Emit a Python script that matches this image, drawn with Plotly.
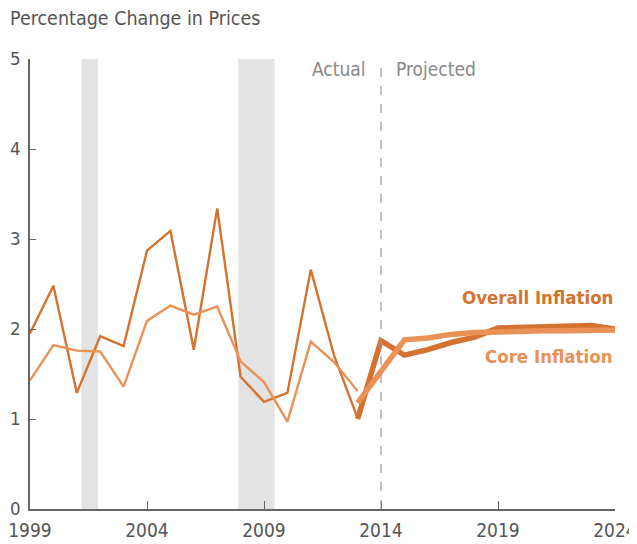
import plotly.graph_objects as go

years_actual = list(range(1999, 2014))
overall_actual = [1.95, 2.48, 1.29, 1.92, 1.81, 2.87, 3.09, 1.77, 3.34, 1.47, 1.19, 1.29, 2.66, 1.70, 1.01]
core_actual = [1.43, 1.82, 1.76, 1.75, 1.36, 2.09, 2.26, 2.16, 2.25, 1.64, 1.41, 0.97, 1.86, 1.63, 1.31]

years_proj = list(range(2013, 2025))
overall_proj = [1.00, 1.87, 1.71, 1.77, 1.85, 1.91, 2.01, 2.02, 2.02, 2.03, 2.04, 2.00]
core_proj = [1.18, 1.53, 1.88, 1.90, 1.94, 1.96, 1.97, 1.97, 1.98, 1.98, 1.99, 1.99]

recessions = [(2001.2, 2001.9), (2007.9, 2009.45)]
x_ticks = [1999, 2004, 2009, 2014, 2019, 2024]
y_ticks = [0, 1, 2, 3, 4, 5]

C_OVERALL = "#D4722F"
C_CORE = "#E99157"
GRAY = "#666666"
FONT = "DejaVu Sans Condensed, sans-serif"

fig = go.Figure()

for x0, x1 in recessions:
    fig.add_shape(type="rect", x0=x0, x1=x1, y0=0, y1=5, xref="x", yref="y",
                  fillcolor="#E3E3E3", line_width=0, layer="below")

fig.add_shape(type="line", x0=2014, x1=2014, y0=0, y1=5, xref="x", yref="y",
              line=dict(color="#999999", width=1.2, dash="dash"))

fig.add_trace(go.Scatter(x=years_actual, y=overall_actual, mode="lines",
                         line=dict(color=C_OVERALL, width=2.4), showlegend=False))
fig.add_trace(go.Scatter(x=years_actual, y=core_actual, mode="lines",
                         line=dict(color=C_CORE, width=2.4), showlegend=False))
fig.add_trace(go.Scatter(x=years_proj, y=overall_proj, mode="lines",
                         line=dict(color=C_OVERALL, width=5.5), showlegend=False))
fig.add_trace(go.Scatter(x=years_proj, y=core_proj, mode="lines",
                         line=dict(color=C_CORE, width=5.5), showlegend=False))

fig.add_annotation(x=2024, y=2.35, xref="x", yref="y", text="<b>Overall Inflation</b>",
                   showarrow=False, xanchor="right", yanchor="middle",
                   font=dict(family=FONT, size=18.5, color=C_OVERALL))
fig.add_annotation(x=2024, y=1.69, xref="x", yref="y", text="<b>Core Inflation</b>",
                   showarrow=False, xanchor="right", yanchor="middle",
                   font=dict(family=FONT, size=18.5, color=C_CORE))
fig.add_annotation(x=2013.45, y=4.89, xref="x", yref="y", text="Actual",
                   showarrow=False, xanchor="right", yanchor="middle",
                   font=dict(family=FONT, size=19, color="#888888"))
fig.add_annotation(x=2014.55, y=4.89, xref="x", yref="y", text="Projected",
                   showarrow=False, xanchor="left", yanchor="middle",
                   font=dict(family=FONT, size=19, color="#888888"))
fig.add_annotation(x=0, y=1, xref="paper", yref="paper", text="Percentage Change in Prices",
                   showarrow=False, xanchor="left", yanchor="bottom", xshift=-22, yshift=27,
                   font=dict(family=FONT, size=19.5, color="#555555"))

fig.update_layout(
    width=629, height=536,
    margin=dict(l=22, r=22, t=51, b=35),
    plot_bgcolor="white", paper_bgcolor="white",
    font=dict(family=FONT, size=19, color="#555555"),
    xaxis=dict(range=[1999, 2024], tickvals=x_ticks, ticks="inside", ticklen=8,
               tickcolor=GRAY, tickwidth=1.2, showline=True, linecolor=GRAY, linewidth=1.5,
               showgrid=False, zeroline=False, fixedrange=True, automargin=False,
               ticklabelstandoff=3),
    yaxis=dict(range=[0, 5], tickvals=y_ticks, ticks="inside", ticklen=6,
               tickcolor=GRAY, tickwidth=1.2, showline=True, linecolor=GRAY, linewidth=1.5,
               showgrid=False, zeroline=False, fixedrange=True, automargin=False,
               ticklabelstandoff=4, tickfont=dict(size=18.5)),
)

fig.write_html("out.html")
